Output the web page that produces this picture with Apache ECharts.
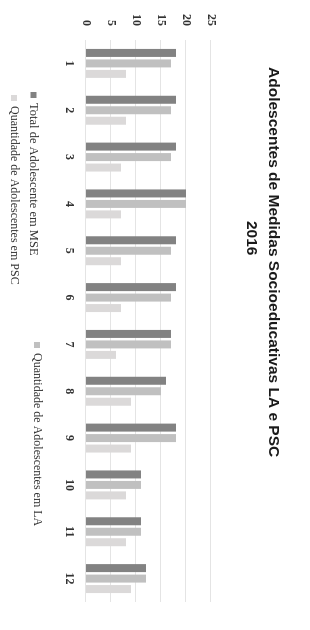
<!DOCTYPE html>
<html>
<head>
<meta charset="utf-8">
<script src="https://cdn.jsdelivr.net/npm/echarts@6/dist/echarts.min.js"></script>
<style>
  html, body { margin: 0; padding: 0; background: #ffffff; width: 310px; height: 630px; overflow: hidden; }
  #chart { position: absolute; left: 0; top: 0; width: 630px; height: 310px;
           transform-origin: 0 0; transform: translate(310px, 0) rotate(90deg); }
</style>
</head>
<body>
<div id="chart"></div>
<script>
const categories = ['1','2','3','4','5','6','7','8','9','10','11','12'];
const totalMSE = [18,18,18,20,18,18,17,16,18,11,11,12];
const qtdLA    = [17,17,17,20,17,17,17,15,18,11,11,12];
const qtdPSC   = [8,8,7,7,7,7,6,9,9,8,8,9];
const valueTicks = [0,5,10,15,20,25];
const seriesNames = ['Total de Adolescente em MSE','Quantidade de Adolescentes em LA','Quantidade de Adolescentes em PSC'];
const titleLine1 = 'Adolescentes de Medidas Socioeducativas LA e PSC';
const titleLine2 = '2016';

const chart = echarts.init(document.getElementById('chart'), null, {renderer: 'canvas'});
const serif = '"Liberation Serif", "DejaVu Serif", serif';
const sans = '"Liberation Sans", Arial, sans-serif';
const colors = ['#828282', '#c0c0c0', '#dbd9d9'];

chart.setOption({
  backgroundColor: '#ffffff',
  animation: false,
  graphic: [
    { type: 'text', top: 29, left: 67, style: { text: titleLine1, font: 'bold 15.5px ' + sans, fill: '#1a1a1a' } },
    { type: 'text', top: 51, left: 221, style: { text: titleLine2, font: 'bold 15.5px ' + sans, fill: '#1a1a1a' } }
  ],
  legend: [
    { data: [seriesNames[0]], left: 87, top: 265, itemWidth: 6, itemHeight: 6, icon: 'rect',
      textStyle: { fontFamily: serif, fontSize: 12.5, color: '#333' } },
    { data: [seriesNames[1]], left: 337, top: 262, itemWidth: 6, itemHeight: 6, icon: 'rect',
      textStyle: { fontFamily: serif, fontSize: 12, color: '#333' } },
    { data: [seriesNames[2]], left: 90, top: 285, itemWidth: 6, itemHeight: 6, icon: 'rect',
      textStyle: { fontFamily: serif, fontSize: 12, color: '#333' } }
  ],
  grid: { left: 40, right: 28, top: 99, bottom: 86, containLabel: false },
  xAxis: {
    type: 'category', data: categories,
    axisLine: { show: false }, axisTick: { show: false },
    axisLabel: { margin: 11, fontFamily: serif, fontSize: 12, fontWeight: 'bold', color: '#333' }
  },
  yAxis: {
    type: 'value', min: valueTicks[0], max: valueTicks[valueTicks.length - 1], interval: 5,
    axisLine: { show: false }, axisTick: { show: false },
    splitLine: { lineStyle: { color: '#e4e4e4', width: 1 } },
    axisLabel: { margin: 14, fontFamily: serif, fontSize: 12, fontWeight: 'bold', color: '#333' }
  },
  series: [
    { name: seriesNames[0], type: 'bar', data: totalMSE, barWidth: 8, barGap: '31%', itemStyle: { color: colors[0] } },
    { name: seriesNames[1], type: 'bar', data: qtdLA, barWidth: 8, barGap: '31%', itemStyle: { color: colors[1] } },
    { name: seriesNames[2], type: 'bar', data: qtdPSC, barWidth: 8, barGap: '31%', itemStyle: { color: colors[2] } }
  ]
});
</script>
</body>
</html>
